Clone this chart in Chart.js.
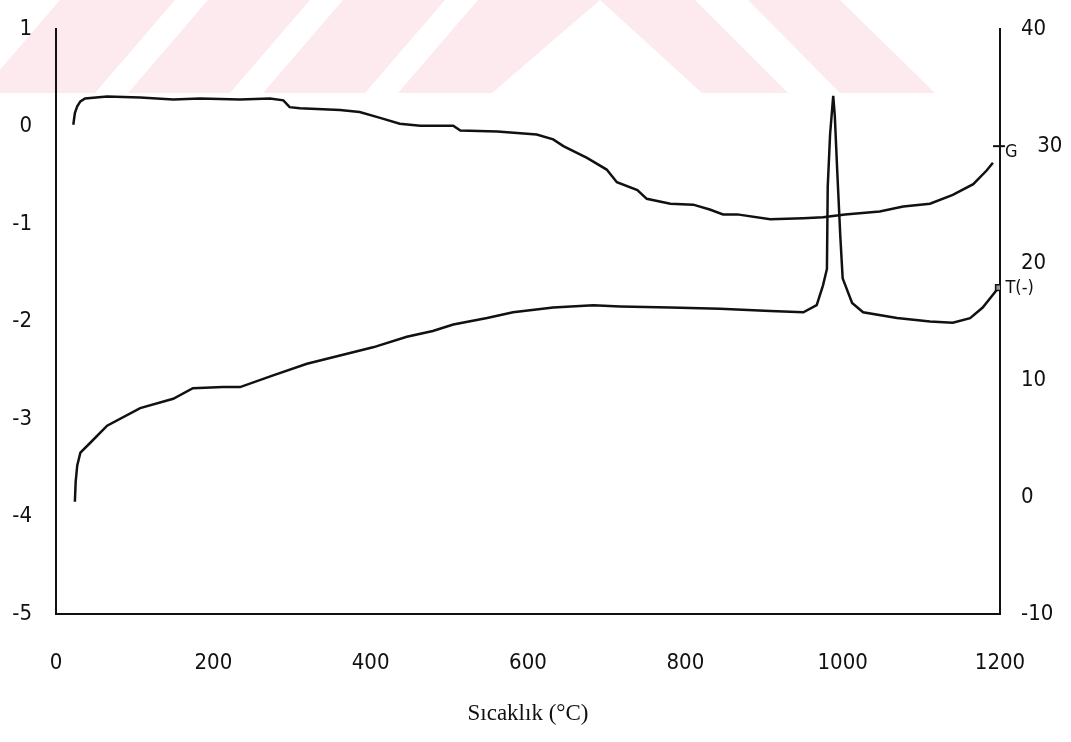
<!DOCTYPE html>
<html>
<head>
<meta charset="utf-8">
<script src="https://cdn.jsdelivr.net/npm/chart.js@4/dist/chart.umd.min.js"></script>
<style>
  html, body { margin: 0; padding: 0; background: #fff; }
  #wrap { width: 1071px; height: 742px; }
</style>
</head>
<body>
<div id="wrap"><canvas id="tga_chart" width="1071" height="742"></canvas></div>
<script>
// temperature (°C) / TG curve, left axis
var gTemp = [22, 24, 27, 31, 37, 65, 107, 149, 183, 234, 272, 289, 297, 310, 361, 386, 412, 437, 463, 505,
    514, 561, 611, 632, 645, 675, 700, 713, 739, 751, 781, 810, 831, 848, 866, 908, 950, 975, 1003, 1047,
    1077, 1111, 1140, 1166, 1183, 1191];
var gValues = [0.02, 0.14, 0.21, 0.26, 0.29, 0.31, 0.30, 0.28, 0.29, 0.28, 0.29, 0.27, 0.20, 0.19, 0.17, 0.15, 0.09, 0.03, 0.01, 0.01,
    -0.04, -0.05, -0.08, -0.13, -0.20, -0.32, -0.44, -0.57, -0.65, -0.74, -0.79, -0.80, -0.85, -0.90, -0.90, -0.95, -0.94, -0.93, -0.90, -0.87,
    -0.82, -0.79, -0.70, -0.59, -0.45, -0.37];

// DTA curve, right axis
var dtaTemp = [24, 25, 27, 31, 43, 65, 107, 149, 174, 212, 234, 276, 319, 361, 403, 446, 479, 505, 548, 581,
    632, 683, 717, 781, 844, 908, 950, 967, 975, 980, 981, 984, 988, 990, 993, 997, 1000, 1012, 1026, 1069,
    1111, 1140, 1162, 1178, 1191, 1198];
var dtaValues = [-0.4, 1.3, 2.7, 3.8, 4.6, 6.1, 7.6, 8.4, 9.3, 9.4, 9.4, 10.4, 11.4, 12.1, 12.8, 13.7, 14.2, 14.75, 15.3, 15.8,
    16.2, 16.4, 16.3, 16.2, 16.1, 15.9, 15.8, 16.4, 18.1, 19.5, 26.5, 31.0, 34.3, 32.6, 28.0, 22.3, 18.7, 16.6, 15.8, 15.3,
    15.0, 14.9, 15.3, 16.2, 17.3, 17.9];

var xTicks = [0, 200, 400, 600, 800, 1000, 1200];
var leftTicks = [1, 0, -1, -2, -3, -4, -5];
var rightTicks = [40, 30, 20, 10, 0, -10];

var tickFont = { family: "'DejaVu Sans Condensed', 'Liberation Sans Narrow', 'DejaVu Sans', sans-serif", size: 22 };

function pairs(xs, ys) {
    return xs.map(function (x, i) { return { x: x, y: ys[i] }; });
}

function fixTicks(list) {
    return function (scale) {
        scale.ticks = list.map(function (v) { return { value: v }; });
    };
}

// faint pink watermark stripes across the top of the scan
var watermark = {
    id: 'watermark',
    beforeDraw: function (chart) {
        var ctx = chart.ctx;
        var stripes = [
            [[60, 0], [175, 0], [95, 93], [-20, 93]],
            [[208, 0], [310, 0], [230, 93], [128, 93]],
            [[343, 0], [445, 0], [365, 93], [263, 93]],
            [[478, 0], [600, 0], [492, 93], [398, 93]],
            [[600, 0], [695, 0], [788, 93], [702, 93]],
            [[748, 0], [840, 0], [935, 93], [840, 93]]
        ];
        ctx.save();
        ctx.fillStyle = 'rgb(253, 234, 238)';
        stripes.forEach(function (p) {
            ctx.beginPath();
            ctx.moveTo(p[0][0], p[0][1]);
            for (var i = 1; i < p.length; i++) ctx.lineTo(p[i][0], p[i][1]);
            ctx.closePath();
            ctx.fill();
        });
        ctx.restore();
    }
};

// curve end labels G and T(-)
var curveLabels = {
    id: 'curveLabels',
    afterDatasetsDraw: function (chart) {
        var ctx = chart.ctx;
        var yR = chart.scales.yR;
        var right = chart.chartArea.right;
        var gy = yR.getPixelForValue(30);
        ctx.save();
        ctx.strokeStyle = '#111';
        ctx.lineWidth = 2;
        ctx.beginPath();
        ctx.moveTo(right - 7, gy);
        ctx.lineTo(right + 5, gy);
        ctx.stroke();
        ctx.fillStyle = '#111';
        ctx.font = "18px 'DejaVu Sans Condensed', 'DejaVu Sans', sans-serif";
        ctx.textBaseline = 'middle';
        ctx.fillText('G', right + 5, gy + 6);
        var meta = chart.getDatasetMeta(1);
        var last = meta.data[meta.data.length - 1];
        ctx.fillText('T(-)', last.x + 7, last.y + 1);
        ctx.restore();
    }
};

new Chart(document.getElementById('tga_chart').getContext('2d'), {
    type: 'line',
    data: {
        datasets: [{
            label: 'G',
            data: pairs(gTemp, gValues),
            yAxisID: 'yL',
            borderColor: '#111',
            borderWidth: 2.5,
            pointRadius: 0,
            tension: 0
        }, {
            label: 'T(-)',
            data: pairs(dtaTemp, dtaValues),
            yAxisID: 'yR',
            borderColor: '#111',
            borderWidth: 2.5,
            tension: 0,
            pointStyle: 'rect',
            pointRadius: function (c) { return c.dataIndex === dtaTemp.length - 1 ? 4 : 0; },
            pointBackgroundColor: '#999',
            pointBorderColor: '#111',
            pointBorderWidth: 1.5
        }]
    },
    options: {
        responsive: false,
        animation: false,
        layout: { padding: { top: 20, left: 0, right: 0, bottom: 0 } },
        plugins: { legend: { display: false }, tooltip: { enabled: false } },
        scales: {
            x: {
                type: 'linear',
                min: 0,
                max: 1200,
                afterBuildTicks: fixTicks(xTicks),
                afterFit: function (s) { s.height = 128; },
                grid: { display: false },
                border: { display: true, color: '#111', width: 2 },
                ticks: {
                    color: '#111',
                    font: tickFont,
                    padding: 28,
                    maxRotation: 0,
                    callback: function (v) { return String(v); }
                },
                title: {
                    display: true,
                    text: 'Sıcaklık (°C)',
                    color: '#111',
                    font: { family: "'Liberation Serif', 'Times New Roman', serif", size: 23 },
                    padding: { top: 0, bottom: 14 }
                }
            },
            yL: {
                type: 'linear',
                position: 'left',
                min: -5,
                max: 1,
                afterBuildTicks: fixTicks(leftTicks),
                afterFit: function (s) { s.width = 56; },
                grid: { display: false },
                border: { display: true, color: '#111', width: 2 },
                ticks: { color: '#111', font: tickFont, padding: 16, callback: function (v) { return String(v); } }
            },
            yR: {
                type: 'linear',
                position: 'right',
                min: -10,
                max: 40,
                afterBuildTicks: fixTicks(rightTicks),
                afterFit: function (s) { s.width = 71; },
                grid: { display: false },
                border: { display: true, color: '#111', width: 2 },
                ticks: {
                    color: '#111',
                    font: tickFont,
                    padding: 13,
                    callback: function (v) { return v === 30 ? '\u2002 ' + v : String(v); }
                }
            }
        }
    },
    plugins: [watermark, curveLabels]
});
</script>
</body>
</html>
